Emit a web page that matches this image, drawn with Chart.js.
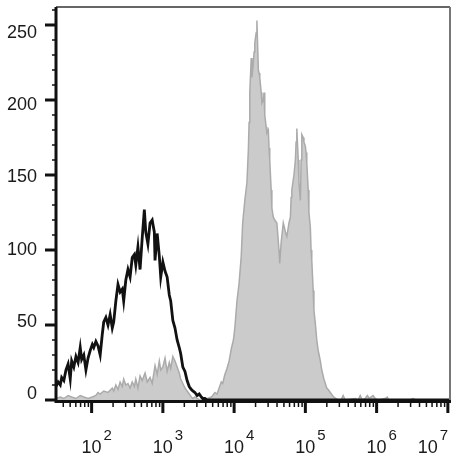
<!DOCTYPE html>
<html>
<head>
<meta charset="utf-8">
<script src="https://cdn.jsdelivr.net/npm/chart.js@4/dist/chart.umd.min.js"></script>
<style>
  body { margin: 0; background: #ffffff; }
  canvas { display: block; }
</style>
</head>
<body>
<canvas id="histo" width="461" height="468"></canvas>
<script>
// flow histogram - grey filled = stained, black outline = control
// x values are stored as log10 of the intensity

// control (black line)
const blackExp = [1.50, 1.53, 1.56, 1.58, 1.61, 1.64, 1.67, 1.70, 1.72, 1.75, 1.78, 1.81, 1.84, 1.86, 1.89, 1.92, 1.95, 1.98,
    2.01, 2.03, 2.06, 2.09, 2.12, 2.15, 2.17, 2.20, 2.23, 2.26, 2.29, 2.31, 2.34, 2.37, 2.40, 2.43, 2.45, 2.48,
    2.51, 2.54, 2.57, 2.60, 2.62, 2.65, 2.68, 2.71, 2.74, 2.76, 2.79, 2.82, 2.85, 2.88, 2.89, 2.92, 2.95, 2.97,
    3.00, 3.03, 3.06, 3.09, 3.11, 3.14, 3.17, 3.20, 3.23, 3.25, 3.28, 3.31, 3.34, 3.37, 3.40, 3.42, 3.45, 3.48,
    3.51, 3.54, 3.56, 3.59, 3.62, 4.50, 7.03];
const blackCount = [9, 12, 10, 15, 13, 20, 24, 14, 26, 22, 29, 25, 35, 27, 30, 20, 28, 33,
    37, 35, 39, 36, 30, 44, 52, 55, 50, 57, 48, 52, 66, 77, 72, 74, 66, 80,
    87, 82, 95, 97, 90, 102, 87, 108, 127, 112, 104, 118, 120, 112, 93, 111, 96, 82,
    92, 86, 82, 70, 66, 53, 48, 40, 35, 31, 22, 19, 13, 9, 7, 6, 5, 3,
    4, 2, 1, 1, 0, 0, 0];

// stained sample (grey fill)
const greyExp = [1.50, 1.56, 1.61, 1.67, 1.72, 1.78, 1.84, 1.89, 1.95, 2.01, 2.06, 2.09, 2.12, 2.17, 2.23, 2.29, 2.31, 2.34,
    2.37, 2.40, 2.43, 2.45, 2.48, 2.51, 2.54, 2.57, 2.60, 2.62, 2.65, 2.68, 2.71, 2.75, 2.78, 2.82, 2.85, 2.89,
    2.92, 2.95, 2.97, 3.00, 3.03, 3.06, 3.09, 3.11, 3.14, 3.17, 3.20, 3.23, 3.25, 3.28, 3.31, 3.34, 3.37, 3.40,
    3.42, 3.45, 3.48, 3.52, 3.59, 3.63, 3.68, 3.70, 3.73, 3.76, 3.79, 3.82, 3.84, 3.87, 3.90, 3.93, 3.96, 3.99,
    4.01, 4.04, 4.07, 4.10, 4.12, 4.15, 4.18, 4.20, 4.21, 4.22, 4.24, 4.25, 4.27, 4.28, 4.29, 4.31, 4.32, 4.34,
    4.35, 4.36, 4.38, 4.39, 4.41, 4.42, 4.43, 4.45, 4.46, 4.48, 4.49, 4.50, 4.52, 4.53, 4.55, 4.57, 4.60, 4.63,
    4.64, 4.66, 4.69, 4.72, 4.74, 4.77, 4.79, 4.80, 4.81, 4.84, 4.86, 4.87, 4.88, 4.90, 4.91, 4.93, 4.94, 4.95,
    4.97, 4.98, 5.00, 5.01, 5.02, 5.04, 5.05, 5.07, 5.08, 5.09, 5.11, 5.12, 5.14, 5.16, 5.18, 5.21, 5.23, 5.26,
    5.28, 5.30, 5.32, 5.35, 5.38, 5.40, 5.43, 5.46, 5.50, 5.53, 5.56, 5.70, 5.74, 5.77, 5.80, 5.84, 5.87, 5.90,
    5.92, 5.95, 5.98, 6.02, 6.12, 6.15, 6.17, 6.47, 6.51, 6.55, 7.03];
const greyCount = [1, 2, 1, 3, 2, 1, 3, 2, 1, 2, 3, 5, 4, 6, 5, 8, 6, 10,
    7, 12, 9, 14, 10, 11, 8, 12, 9, 14, 8, 16, 13, 18, 12, 15, 11, 23,
    17, 26, 20, 22, 28, 19, 25, 21, 29, 26, 22, 18, 14, 11, 8, 6, 4, 2,
    1, 2, 1, 0, 0, 1, 2, 3, 5, 4, 8, 12, 11, 17, 21, 26, 34, 40,
    48, 66, 78, 96, 118, 133, 145, 167, 185, 205, 228, 215, 225, 232, 238, 245, 253, 220,
    218, 215, 205, 198, 200, 205, 190, 182, 178, 180, 168, 160, 140, 128, 122, 120, 118, 100,
    91, 105, 118, 112, 109, 118, 122, 135, 140, 150, 160, 172, 181, 160, 145, 133, 160, 177,
    175, 172, 169, 165, 158, 140, 125, 115, 100, 93, 73, 60, 51, 40, 33, 26, 20, 14,
    11, 8, 7, 5, 3, 2, 1, 0, 0, 3, 0, 1, 0, 3, 0, 1, 3, 1,
    2, 3, 1, 0, 1, 2, 0, 0, 1, 0, 0];

// axis ticks
const yLabels = [0, 50, 100, 150, 200, 250];
const xDecades = [2, 3, 4, 5, 6, 7];

const X_MIN_EXP = 1.5;
const X_MAX_EXP = 7.03;
const Y_MAX = 262;

const COLOR_FILL = '#cbcbcb';
const COLOR_EDGE = '#ababab';
const COLOR_INK = '#111111';

function toPoints(exps, counts) {
    const pts = [];
    for (let i = 0; i < exps.length; i++) {
        pts.push({ x: Math.pow(10, exps[i]), y: counts[i] });
    }
    return pts;
}

// draws the frame, ticks and labels the way the cytometry software does
const axesPlugin = {
    id: 'flowAxes',
    afterDraw(chart) {
        const ctx = chart.ctx;
        const area = chart.chartArea;
        const xs = chart.scales.x;
        const ys = chart.scales.y;
        ctx.save();

        // top and right frame (thin)
        ctx.strokeStyle = '#333333';
        ctx.lineWidth = 1.5;
        ctx.beginPath();
        ctx.moveTo(area.left, area.top);
        ctx.lineTo(area.right, area.top);
        ctx.stroke();
        ctx.strokeStyle = '#777777';
        ctx.lineWidth = 2;
        ctx.beginPath();
        ctx.moveTo(area.right, area.top);
        ctx.lineTo(area.right, area.bottom);
        ctx.stroke();

        // left and bottom axis (thick)
        ctx.strokeStyle = COLOR_INK;
        ctx.lineWidth = 3;
        ctx.beginPath();
        ctx.moveTo(area.left, area.top);
        ctx.lineTo(area.left, area.bottom + 1.5);
        ctx.lineTo(area.right + 1, area.bottom + 1.5);
        ctx.stroke();

        // y ticks every 10, long ones every 50
        for (let v = 0; v <= 260; v += 10) {
            const py = ys.getPixelForValue(v);
            const major = v % 50 === 0;
            ctx.lineWidth = major ? 3 : 1.5;
            ctx.beginPath();
            ctx.moveTo(area.left - (major ? 11 : 4), py);
            ctx.lineTo(area.left, py);
            ctx.stroke();
        }

        // x ticks, decades long, 2..9 short
        for (let k = 1; k <= 7; k++) {
            for (let m = 1; m <= 9; m++) {
                const val = m * Math.pow(10, k);
                const e = Math.log10(val);
                if (e < X_MIN_EXP || e > X_MAX_EXP + 0.001) continue;
                const px = xs.getPixelForValue(val);
                const major = m === 1;
                ctx.lineWidth = major ? 3 : 1.5;
                ctx.beginPath();
                ctx.moveTo(px, area.bottom);
                ctx.lineTo(px, area.bottom + (major ? 13 : 7));
                ctx.stroke();
            }
        }

        ctx.fillStyle = '#1a1a1a';

        // y labels
        ctx.font = '18px "Liberation Sans", Arial, sans-serif';
        ctx.textAlign = 'right';
        ctx.textBaseline = 'middle';
        for (let i = 0; i < yLabels.length; i++) {
            const v = yLabels[i];
            const py = ys.getPixelForValue(v) - 6 + v * 0.056;
            ctx.fillText(String(v), 37, py);
        }

        // x labels "10" with the exponent raised
        // the last one is pushed left so it stays inside the picture
        ctx.textBaseline = 'alphabetic';
        for (let i = 0; i < xDecades.length; i++) {
            let px = xs.getPixelForValue(Math.pow(10, xDecades[i]));
            if (i === xDecades.length - 1) px -= 20;
            ctx.font = '18px "Liberation Sans", Arial, sans-serif';
            ctx.textAlign = 'center';
            ctx.fillText('10', px, 453);
            ctx.font = '15px "Liberation Sans", Arial, sans-serif';
            ctx.textAlign = 'left';
            ctx.fillText(String(xDecades[i]), px + 12, 440);
        }

        ctx.restore();
    }
};

const ctx = document.getElementById('histo').getContext('2d');

new Chart(ctx, {
    type: 'line',
    data: {
        datasets: [
            {
                label: 'control',
                data: toPoints(blackExp, blackCount),
                borderColor: COLOR_INK,
                borderWidth: 2.8,
                pointRadius: 0,
                tension: 0,
                fill: false
            },
            {
                label: 'stained',
                data: toPoints(greyExp, greyCount),
                borderColor: COLOR_EDGE,
                backgroundColor: COLOR_FILL,
                borderWidth: 1.5,
                pointRadius: 0,
                tension: 0,
                fill: 'origin'
            }
        ]
    },
    options: {
        responsive: false,
        animation: false,
        layout: {
            padding: { left: 56, right: 11, top: 7, bottom: 68 }
        },
        scales: {
            x: {
                type: 'logarithmic',
                min: Math.pow(10, X_MIN_EXP),
                max: Math.pow(10, X_MAX_EXP),
                display: false
            },
            y: {
                type: 'linear',
                min: 0,
                max: Y_MAX,
                display: false
            }
        },
        plugins: {
            legend: { display: false },
            tooltip: { enabled: false }
        }
    },
    plugins: [axesPlugin]
});
</script>
</body>
</html>
